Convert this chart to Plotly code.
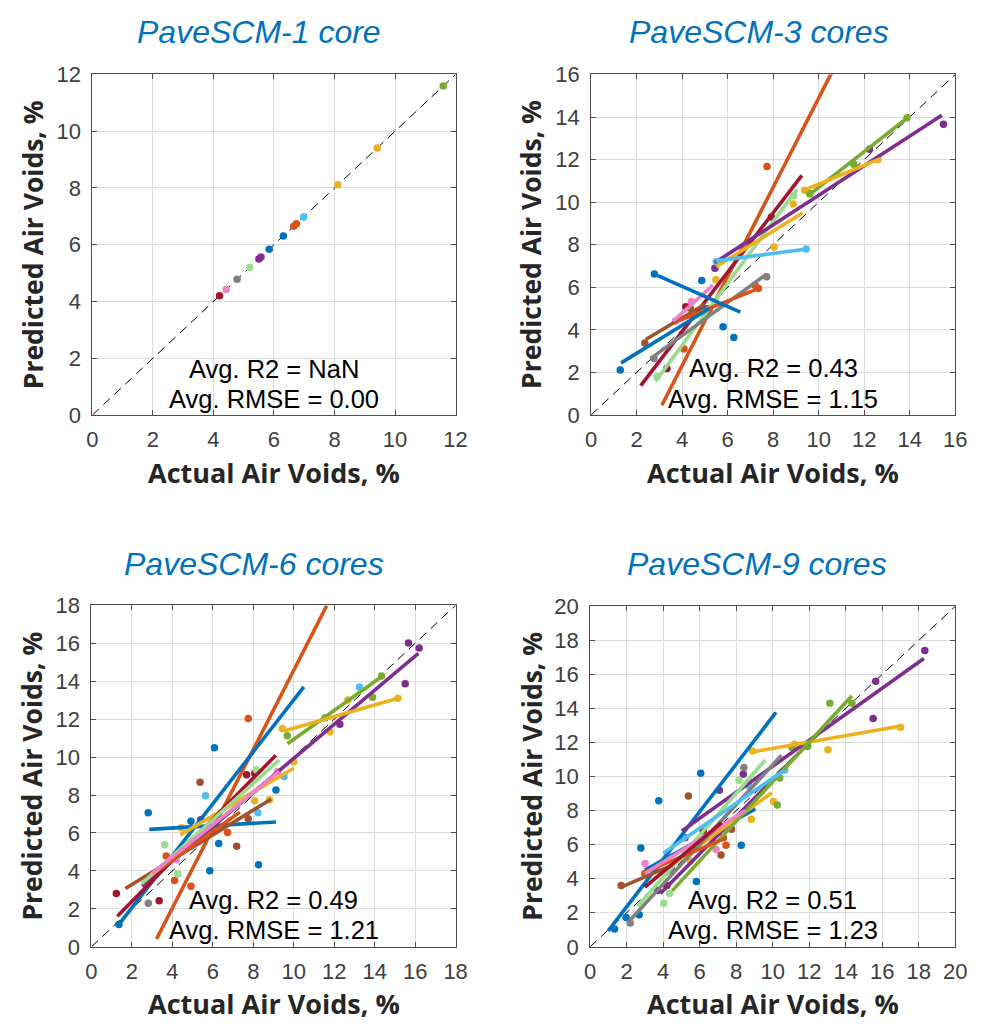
import plotly.graph_objects as go

# ---------------- data ----------------
# series index -> palette colour (MATLAB-like order + extras)
SERIES_COLORS = ["#0072BD", "#D95319", "#EDB120", "#7E2F8E", "#77AC30", "#4DBEEE",
                 "#A2142F", "#EE82C8", "#808080", "#98DC8C", "#A0522D"]

panel_titles = ["PaveSCM-1 core", "PaveSCM-3 cores", "PaveSCM-6 cores", "PaveSCM-9 cores"]
panel_r2 = ["NaN", "0.43", "0.49", "0.51"]
panel_rmse = ["0.00", "1.15", "1.21", "1.23"]
axis_max = [12, 16, 18, 20]
tick_vals = [list(range(0, 13, 2)), list(range(0, 17, 2)), list(range(0, 19, 2)), list(range(0, 21, 2))]

# Panel 1: actual / predicted / series
p1_act = [4.20, 4.42, 4.78, 5.20, 5.50, 5.57, 5.84, 6.31, 6.65, 6.74, 6.98, 8.11, 9.41, 11.59]
p1_pred = [4.20, 4.42, 4.78, 5.20, 5.50, 5.57, 5.84, 6.31, 6.65, 6.74, 6.98, 8.11, 9.41, 11.59]
p1_ser = [6, 7, 8, 9, 3, 3, 0, 0, 1, 1, 5, 2, 2, 4]

# Panel 2 points
p2_act = [1.28, 2.78, 4.86, 5.80, 6.27, 5.00,
          7.73, 4.08, 7.35, 7.20,
          9.38, 9.60, 8.88, 8.04, 5.48, 12.60,
          5.44, 12.23, 15.48,
          9.61, 11.54, 13.88,
          9.45, 5.50,
          3.33, 4.16, 7.92,
          4.41, 3.70,
          2.76, 5.20, 7.71,
          2.90, 8.90,
          2.36, 4.36]
p2_pred = [2.11, 6.62, 6.32, 4.15, 3.64, 5.00,
           11.67, 3.10, 5.94, 6.10,
           10.56, 10.40, 9.91, 7.89, 6.35, 12.00,
           6.90, 12.48, 13.66,
           10.40, 11.78, 13.97,
           7.80, 7.20,
           2.19, 5.09, 9.30,
           5.33, 4.40,
           2.65, 5.00, 6.50,
           1.80, 10.30,
           3.38, 5.02]
p2_ser = [0, 0, 0, 0, 0, 0,
          1, 1, 1, 1,
          2, 2, 2, 2, 2, 2,
          3, 3, 3,
          4, 4, 4,
          5, 5,
          6, 6, 6,
          7, 7,
          8, 8, 8,
          9, 9,
          10, 10]
# Panel 2 fitted lines (start/end)
p2_fx0 = [3.11, 2.18, 2.83, 5.44, 9.61, 9.36, 5.50, 5.48, 2.61, 2.40, 3.62, 3.84, 1.32, 2.78]
p2_fy0 = [0.46, 1.38, 1.58, 7.16, 10.37, 10.56, 6.97, 7.24, 2.65, 3.55, 4.42, 4.42, 2.45, 6.62]
p2_fx1 = [10.60, 9.26, 9.04, 15.41, 13.95, 12.73, 9.30, 9.50, 7.71, 5.00, 5.35, 7.36, 5.20, 6.56]
p2_fy1 = [16.15, 11.26, 10.60, 14.08, 14.01, 12.06, 9.50, 7.80, 6.62, 5.20, 6.10, 5.95, 5.00, 4.83]
p2_fser = [1, 6, 9, 3, 4, 2, 2, 5, 8, 10, 7, 1, 0, 0]

# Panel 3 points
p3_act = [7.75, 3.70, 4.11, 4.92, 6.73,
          6.08, 2.81, 9.12, 6.29, 8.26, 5.85, 4.92, 1.36,
          5.37, 7.75, 7.18,
          5.64, 8.23, 9.52, 13.25,
          7.67, 8.07, 1.23, 3.35,
          3.62, 4.27, 8.15,
          2.81,
          4.43, 8.07, 8.80, 10.00, 9.44, 12.68, 11.79, 15.15,
          5.40, 12.28, 15.67, 16.20, 15.51,
          9.68, 11.55, 13.89, 14.34,
          9.20, 4.20]
p3_pred = [12.03, 4.78, 3.50, 3.19, 6.03,
           10.49, 7.06, 8.26, 5.44, 4.32, 4.01, 6.62, 1.18,
           8.67, 6.75, 5.30,
           7.96, 7.06, 8.98, 13.70,
           9.07, 9.15, 2.81, 2.43,
           5.38, 3.84, 9.33,
           2.30,
           6.27, 7.70, 7.75, 9.75, 11.50, 13.01, 11.33, 13.10,
           6.70, 11.73, 16.01, 15.75, 13.87,
           11.12, 12.07, 13.15, 14.27,
           9.24, 4.60]
p3_ser = [1, 1, 1, 1, 1,
          0, 0, 0, 0, 0, 0, 0, 0,
          10, 10, 10,
          5, 5, 5, 5,
          6, 6, 6, 6,
          9, 9, 9,
          8,
          2, 2, 2, 2, 2, 2, 2, 2,
          3, 3, 3, 3, 3,
          4, 4, 4, 4,
          7, 7]
p3_fx0 = [3.22, 1.36, 2.86, 2.50, 9.69, 9.52, 4.40, 1.28, 1.68, 2.81, 2.49, 2.97]
p3_fy0 = [0.41, 1.18, 6.19, 3.20, 10.70, 11.38, 5.90, 1.61, 3.07, 3.67, 3.33, 3.84]
p3_fx1 = [11.63, 10.50, 9.12, 16.16, 14.30, 15.15, 10.00, 9.12, 8.88, 7.34, 9.28, 9.28]
p3_fy1 = [17.98, 13.70, 6.58, 15.46, 14.21, 13.10, 9.41, 10.10, 7.78, 7.10, 9.84, 9.24]
p3_fser = [1, 0, 0, 3, 4, 2, 2, 6, 10, 1, 9, 7]

# Panel 4 points
p4_act = [6.06, 3.76, 2.78, 8.28, 5.82, 2.69, 1.97, 1.34,
          7.44, 7.30, 3.00,
          17.00, 13.03, 10.04, 8.83, 5.50, 8.90, 11.20,
          15.64, 15.50, 18.33, 7.08, 8.39, 5.20, 3.70,
          13.13, 14.34, 11.92, 11.06, 10.39, 10.25,
          8.42, 2.20, 4.50,
          4.03, 4.35, 8.15,
          5.38, 7.74, 7.17, 1.70,
          6.90, 3.01, 3.67,
          8.69, 10.66, 5.10,
          4.20, 6.20]
p4_pred = [10.20, 8.58, 5.81, 5.96, 3.84, 1.89, 1.72, 1.05,
           5.96, 6.40, 4.30,
           12.90, 11.58, 8.54, 7.49, 5.04, 11.50, 11.90,
           15.59, 13.41, 17.40, 9.19, 10.14, 6.40, 3.30,
           14.31, 14.31, 11.77, 11.70, 9.91, 8.33,
           10.53, 1.40, 4.50,
           2.56, 3.13, 9.78,
           8.86, 6.90, 5.39, 3.60,
           5.71, 4.89, 4.59,
           9.44, 10.39, 6.40,
           3.60, 6.80]
p4_ser = [0, 0, 0, 0, 0, 0, 0, 0,
          1, 1, 1,
          2, 2, 2, 2, 2, 2, 2,
          3, 3, 3, 3, 3, 3, 3,
          4, 4, 4, 4, 4, 4,
          8, 8, 8,
          9, 9, 9,
          10, 10, 10, 10,
          7, 7, 7,
          5, 5, 5,
          6, 6]
p4_fx0 = [0.99, 3.00, 5.02, 3.85, 8.87, 3.50, 4.50, 2.06, 2.60, 2.96, 1.70, 4.00, 3.00, 3.00]
p4_fy0 = [0.94, 4.50, 6.80, 3.13, 11.44, 4.00, 3.30, 1.41, 2.37, 4.37, 3.51, 5.50, 4.30, 3.50]
p4_fx1 = [10.18, 9.05, 18.28, 12.63, 17.03, 9.95, 14.34, 10.48, 9.59, 7.44, 4.50, 10.66, 8.50, 7.20]
p4_fy1 = [13.77, 8.10, 16.93, 12.68, 12.97, 9.05, 14.75, 11.25, 10.97, 6.38, 4.80, 10.39, 8.00, 7.30]
p4_fser = [0, 0, 3, 3, 2, 2, 4, 8, 9, 1, 10, 5, 7, 6]

panels = [
    (p1_act, p1_pred, p1_ser, [], [], [], [], []),
    (p2_act, p2_pred, p2_ser, p2_fx0, p2_fy0, p2_fx1, p2_fy1, p2_fser),
    (p3_act, p3_pred, p3_ser, p3_fx0, p3_fy0, p3_fx1, p3_fy1, p3_fser),
    (p4_act, p4_pred, p4_ser, p4_fx0, p4_fy0, p4_fx1, p4_fy1, p4_fser),
]

# ---------------- layout geometry (pixels) ----------------
W, H = 983, 1033
boxes = [(88, 458, 64, 413), (596, 967, 64, 413), (87, 458, 608, 958), (595, 967, 609, 958)]
title_pos = [(258, 20), (767, 20), (253, 566), (765, 566)]
stat_y = [(366, 397), (365, 397), (910, 941), (910, 941)]
xtitle_y = [472, 472, 1016, 1016]
ytitle_x = [27, 535, 27, 535]

TXT = "Liberation Sans, Arial, sans-serif"
LBL = "Open Sans, sans-serif"

fig = go.Figure()

for i, (ax, ay, aser, fx0, fy0, fx1, fy1, fser) in enumerate(panels):
    xa = "x" if i == 0 else f"x{i+1}"
    ya = "y" if i == 0 else f"y{i+1}"
    m = axis_max[i]
    # diagonal 1:1 line
    fig.add_trace(go.Scatter(x=[0, m], y=[0, m], mode="lines", xaxis=xa, yaxis=ya,
                             line=dict(color="black", width=1, dash="9px,6px"),
                             showlegend=False, hoverinfo="skip"))
    # points
    fig.add_trace(go.Scatter(x=ax, y=ay, mode="markers", xaxis=xa, yaxis=ya,
                             marker=dict(size=7.5, color=[SERIES_COLORS[s] for s in aser]),
                             showlegend=False))
    # fitted lines
    for k in range(len(fx0)):
        fig.add_trace(go.Scatter(x=[fx0[k], fx1[k]], y=[fy0[k], fy1[k]], mode="lines",
                                 xaxis=xa, yaxis=ya,
                                 line=dict(color=SERIES_COLORS[fser[k]], width=3.6),
                                 showlegend=False))

layout = dict(width=W, height=H, margin=dict(l=0, r=0, t=0, b=0),
              paper_bgcolor="white", plot_bgcolor="white", showlegend=False)

for i in range(4):
    x0, x1, y0, y1 = boxes[i]
    m = axis_max[i]
    xk = "xaxis" if i == 0 else f"xaxis{i+1}"
    yk = "yaxis" if i == 0 else f"yaxis{i+1}"
    ya = "y" if i == 0 else f"y{i+1}"
    xa = "x" if i == 0 else f"x{i+1}"
    common = dict(range=[0, m], tickvals=tick_vals[i], showgrid=True, gridcolor="#dcdcdc",
                  gridwidth=1, zeroline=False, showline=True, linecolor="#4d4d4d", linewidth=1,
                  mirror="ticks", ticks="inside", ticklen=5, tickcolor="#4d4d4d",
                  tickfont=dict(family=TXT, size=22, color="#404040"), fixedrange=True)
    layout[xk] = dict(domain=[x0 / W, x1 / W], anchor=ya, ticklabelstandoff=5, **common)
    layout[yk] = dict(domain=[1 - y1 / H, 1 - y0 / H], anchor=xa, ticklabelstandoff=6, **common)

annotations = []
for i in range(4):
    x0, x1, y0, y1 = boxes[i]
    cx = (x0 + x1) / 2
    tx, ty = title_pos[i]
    annotations.append(dict(text=panel_titles[i], x=tx / W, y=1 - ty / H, xref="paper", yref="paper",
                            showarrow=False, xanchor="center", yanchor="middle", borderpad=0,
                            font=dict(family=TXT, size=32, color="#0072BD", style="italic")))
    annotations.append(dict(text=f"Avg. R2 = {panel_r2[i]}", x=cx / W, y=1 - stat_y[i][0] / H,
                            xref="paper", yref="paper", showarrow=False, xanchor="center",
                            yanchor="middle", borderpad=0,
                            font=dict(family=TXT, size=25.5, color="black")))
    annotations.append(dict(text=f"Avg. RMSE = {panel_rmse[i]}", x=cx / W, y=1 - stat_y[i][1] / H,
                            xref="paper", yref="paper", showarrow=False, xanchor="center",
                            yanchor="middle", borderpad=0,
                            font=dict(family=TXT, size=25.5, color="black")))
    annotations.append(dict(text="<b>Actual Air Voids, %</b>", x=cx / W, y=1 - xtitle_y[i] / H,
                            xref="paper", yref="paper", showarrow=False, xanchor="center",
                            yanchor="middle", borderpad=0,
                            font=dict(family=LBL, size=27, color="#262626")))
    annotations.append(dict(text="<b>Predicted Air Voids, %</b>", x=ytitle_x[i] / W,
                            y=1 - (y0 + y1) / 2 / H, xref="paper", yref="paper", showarrow=False,
                            xanchor="center", yanchor="middle", textangle=-90, borderpad=0,
                            font=dict(family=LBL, size=26.5, color="#262626")))
layout["annotations"] = annotations

fig.update_layout(**layout)
fig.write_html("out.html")
